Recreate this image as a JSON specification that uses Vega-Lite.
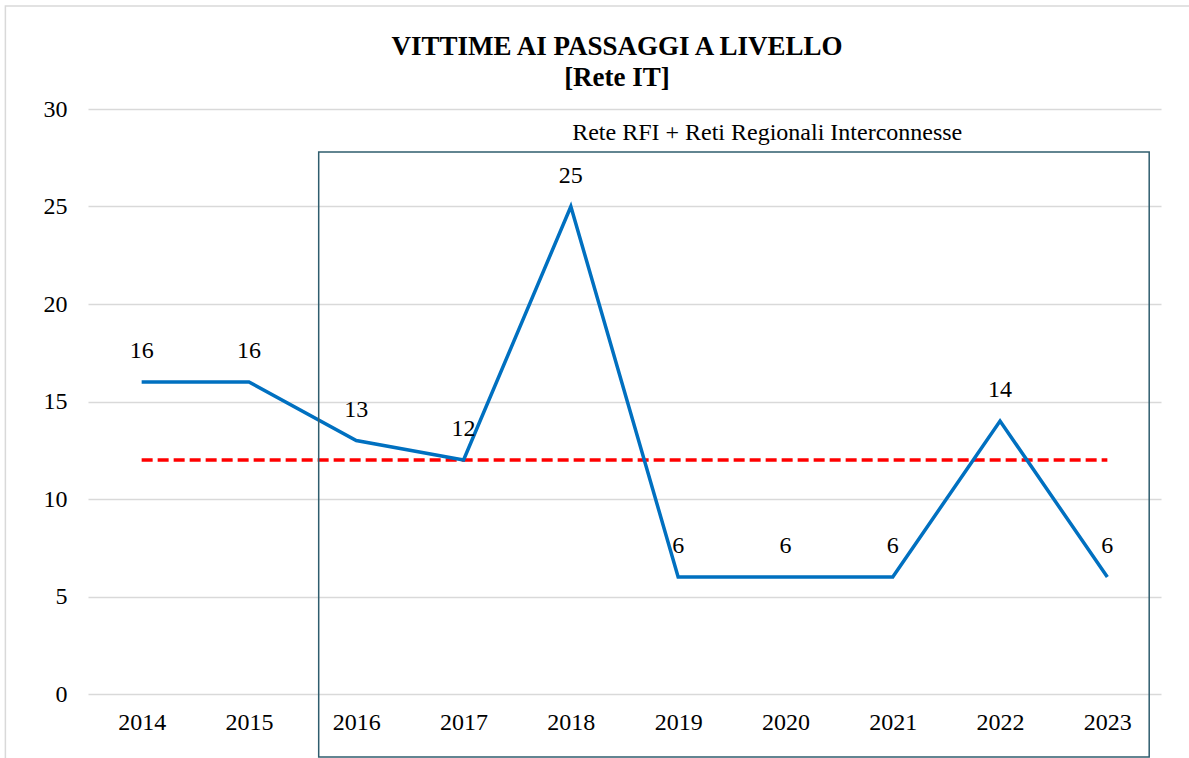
{
  "$schema": "https://vega.github.io/schema/vega-lite/v6.json",
  "width": 1073,
  "height": 585,
  "autosize": {"type": "none"},
  "padding": {"left": 88, "top": 109, "right": 28, "bottom": 64},
  "background": "white",
  "config": {
    "view": {"stroke": null},
    "font": "Liberation Serif",
    "text": {"font": "Liberation Serif"},
    "axis": {"labelFont": "Liberation Serif", "labelColor": "black", "labelFontSize": 24, "domain": false, "ticks": false, "title": null}
  },
  "data": {
    "values": [
      {"anno": 2014, "vittime": 16, "media": 12},
      {"anno": 2015, "vittime": 16, "media": 12},
      {"anno": 2016, "vittime": 13, "media": 12},
      {"anno": 2017, "vittime": 12, "media": 12},
      {"anno": 2018, "vittime": 25, "media": 12},
      {"anno": 2019, "vittime": 6, "media": 12},
      {"anno": 2020, "vittime": 6, "media": 12},
      {"anno": 2021, "vittime": 6, "media": 12},
      {"anno": 2022, "vittime": 14, "media": 12},
      {"anno": 2023, "vittime": 6, "media": 12}
    ]
  },
  "layer": [
    {
      "mark": {"type": "line", "color": "#ff0000", "strokeWidth": 3.5, "strokeDash": [11, 5]},
      "encoding": {
        "x": {"field": "anno", "type": "quantitative", "scale": {"domain": [2013.5, 2023.5], "nice": false, "zero": false},
          "axis": {"values": [2014, 2015, 2016, 2017, 2018, 2019, 2020, 2021, 2022, 2023], "format": "d", "grid": false, "labelPadding": 16}},
        "y": {"field": "media", "type": "quantitative", "scale": {"domain": [0, 30], "nice": false},
          "axis": {"values": [0, 5, 10, 15, 20, 25, 30], "grid": true, "gridColor": "#d9d9d9", "gridWidth": 1.5, "labelPadding": 21}}
      }
    },
    {
      "mark": {"type": "line", "color": "#0070c0", "strokeWidth": 3.5},
      "encoding": {
        "x": {"field": "anno", "type": "quantitative"},
        "y": {"field": "vittime", "type": "quantitative"}
      }
    },
    {
      "mark": {"type": "text", "fontSize": 24, "color": "black", "align": "center", "baseline": "middle", "dy": -31},
      "encoding": {
        "x": {"field": "anno", "type": "quantitative"},
        "y": {"field": "vittime", "type": "quantitative"},
        "text": {"field": "vittime"}
      }
    },
    {
      "data": {"values": [{"label": "Rete RFI + Reti Regionali Interconnesse"}]},
      "mark": {"type": "rect", "filled": false, "stroke": "#2f5d6e", "strokeWidth": 1.5, "clip": false},
      "encoding": {
        "x": {"datum": 2015.65, "type": "quantitative"},
        "x2": {"datum": 2023.39},
        "y": {"datum": 27.8, "type": "quantitative"},
        "y2": {"datum": -3.23}
      }
    },
    {
      "data": {"values": [{"label": "Rete RFI + Reti Regionali Interconnesse"}]},
      "mark": {"type": "text", "fontSize": 24, "color": "black", "align": "center", "baseline": "middle"},
      "encoding": {
        "x": {"datum": 2019.83, "type": "quantitative"},
        "y": {"datum": 28.77, "type": "quantitative"},
        "text": {"field": "label"}
      }
    },
    {
      "data": {"values": [{"titolo": ["VITTIME AI PASSAGGI A LIVELLO", "[Rete IT]"]}]},
      "mark": {"type": "text", "fontSize": 27, "fontWeight": "bold", "color": "black", "align": "center", "baseline": "middle", "lineHeight": 31},
      "encoding": {
        "x": {"datum": 2018.43, "type": "quantitative"},
        "y": {"datum": 33.18, "type": "quantitative"},
        "text": {"field": "titolo"}
      }
    },
    {
      "data": {"values": [{"label": "frame"}]},
      "mark": {"type": "rect", "filled": false, "stroke": "#d9d9d9", "strokeWidth": 1.5, "clip": false},
      "encoding": {
        "x": {"datum": 2012.73, "type": "quantitative"},
        "x2": {"datum": 2024.2},
        "y": {"datum": 35.28, "type": "quantitative"},
        "y2": {"datum": -5}
      }
    }
  ]
}
